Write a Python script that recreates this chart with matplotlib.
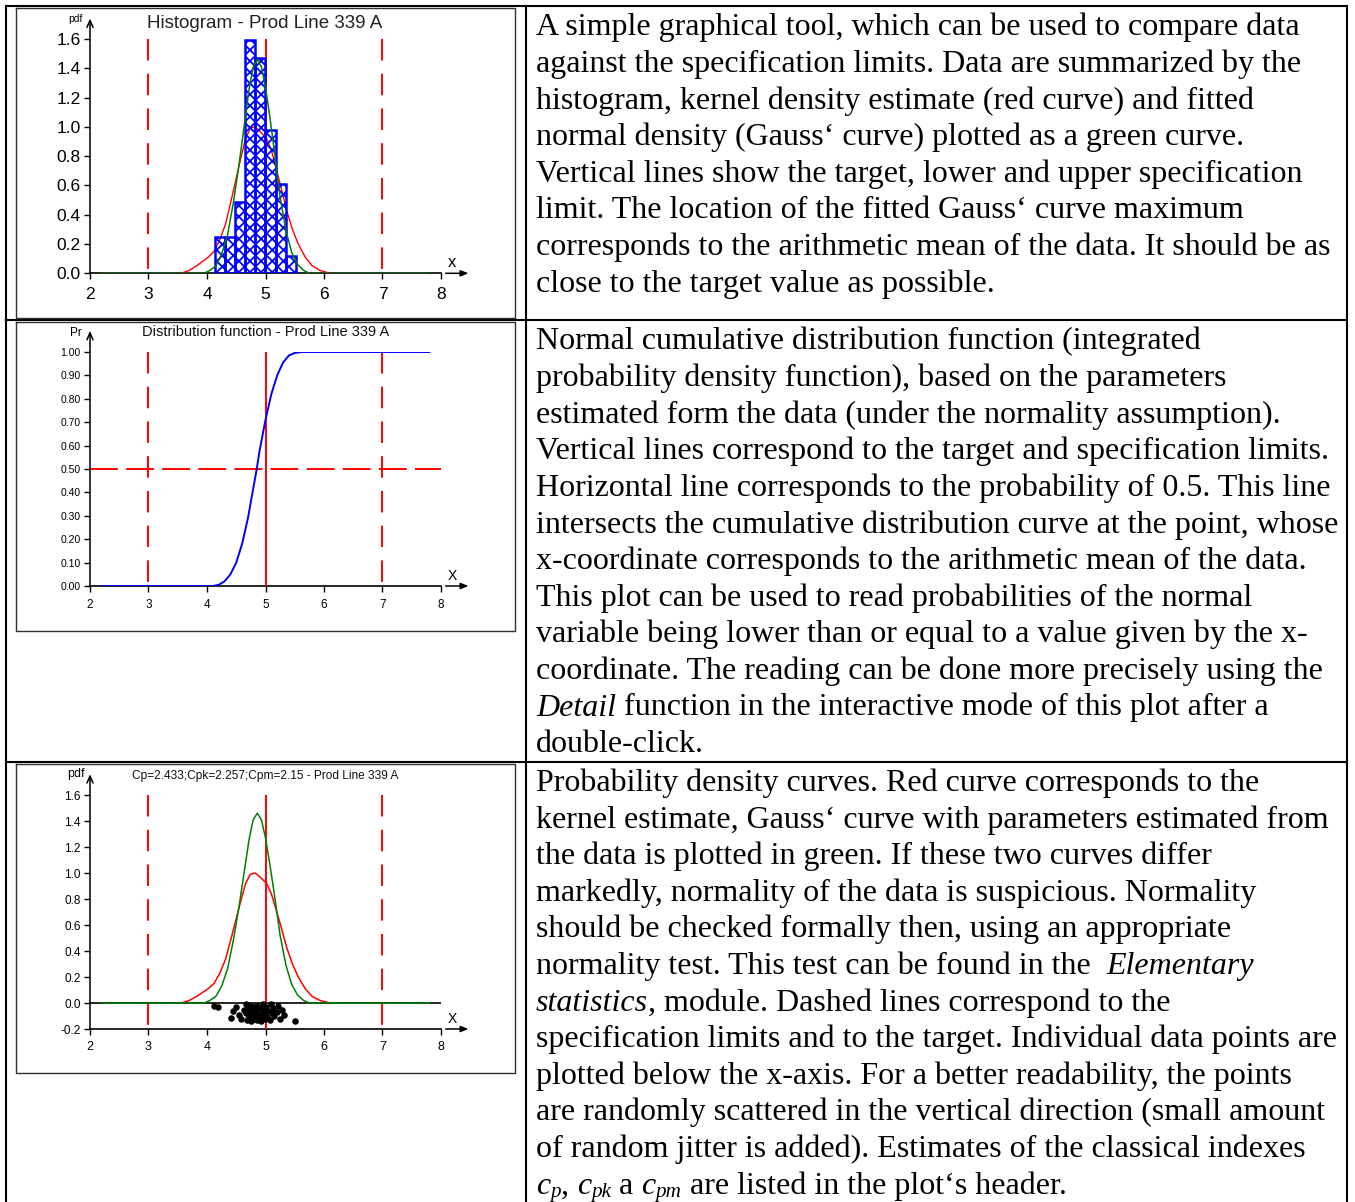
import numpy as np
import matplotlib
matplotlib.use("Agg")
import matplotlib.pyplot as plt

# ---------------- data ----------------
lsl_usl = [3, 7]
target = [5]
x_ticks = [2, 3, 4, 5, 6, 7, 8]
x_tick_labels = ["2", "3", "4", "5", "6", "7", "8"]

hist_edges = [4.13, 4.304, 4.478, 4.651, 4.825, 4.999, 5.173, 5.346, 5.52]
hist_density = [0.245, 0.245, 0.49, 1.59, 1.47, 0.98, 0.61, 0.12]

gauss_x = [2.2, 3.95, 4.05, 4.15, 4.25, 4.35, 4.45, 4.55, 4.65, 4.72, 4.79, 4.86,
           4.93, 5.0, 5.07, 5.15, 5.25, 5.35, 5.45, 5.55, 5.65, 5.75, 7.8]
gauss_y = [0.0, 0.0, 0.02, 0.05, 0.13, 0.26, 0.48, 0.75, 1.05, 1.26, 1.41, 1.46,
           1.41, 1.27, 1.08, 0.84, 0.52, 0.29, 0.14, 0.06, 0.02, 0.0, 0.0]

kde_x = [3.56, 3.70, 3.82, 3.92, 4.02, 4.12, 4.22, 4.32, 4.42, 4.50, 4.58, 4.66, 4.74,
         4.82, 4.88, 4.95, 5.02, 5.10, 5.18, 5.27, 5.36, 5.46, 5.56, 5.68, 5.80, 5.93, 6.10]
kde_y = [0.0, 0.02, 0.05, 0.08, 0.11, 0.15, 0.23, 0.34, 0.51, 0.65, 0.79, 0.92, 0.99,
         1.00, 0.98, 0.95, 0.92, 0.84, 0.72, 0.58, 0.43, 0.30, 0.20, 0.11, 0.05, 0.02, 0.0]

cdf_x = [2.2, 4.1, 4.2, 4.3, 4.4, 4.5, 4.6, 4.7, 4.8, 4.85, 4.9, 5.0, 5.1, 5.2, 5.3,
         5.4, 5.5, 5.62, 7.8]
cdf_y = [0.0, 0.0, 0.005, 0.02, 0.05, 0.10, 0.18, 0.29, 0.43, 0.50, 0.58, 0.71, 0.82,
         0.90, 0.955, 0.985, 0.996, 1.0, 1.0]

pts_x = [4.12, 4.19, 4.41, 4.45, 4.50, 4.54, 4.58, 4.63,
         4.66, 4.67, 4.69, 4.70, 4.72, 4.73, 4.75, 4.76, 4.78, 4.79, 4.80, 4.81, 4.82,
         4.84, 4.85, 4.86, 4.88, 4.89, 4.91, 4.92, 4.94, 4.95, 4.97, 4.98, 4.99,
         5.01, 5.03, 5.05, 5.07, 5.09, 5.11, 5.13, 5.15,
         5.19, 5.22, 5.25, 5.28, 5.31, 5.50]
pts_y = [-0.02, -0.03, -0.115, -0.06, -0.03, -0.09, -0.12, -0.05,
         -0.01, -0.08, -0.13, -0.04, -0.10, -0.06, -0.14, -0.02, -0.11, -0.07, -0.12, -0.03, -0.09,
         -0.05, -0.13, -0.02, -0.09, -0.11, -0.04, -0.14, -0.07, -0.01, -0.10, -0.06, -0.12,
         -0.03, -0.11, -0.06, -0.13, -0.01, -0.08, -0.04, -0.10,
         -0.07, -0.02, -0.12, -0.05, -0.09, -0.14]

pdf_ticks = [0.0, 0.2, 0.4, 0.6, 0.8, 1.0, 1.2, 1.4, 1.6]
pdf_tick_labels = ["0.0", "0.2", "0.4", "0.6", "0.8", "1.0", "1.2", "1.4", "1.6"]
pr_ticks = [0.0, 0.1, 0.2, 0.3, 0.4, 0.5, 0.6, 0.7, 0.8, 0.9, 1.0]
pr_tick_labels = ["0.00", "0.10", "0.20", "0.30", "0.40", "0.50", "0.60", "0.70",
                  "0.80", "0.90", "1.00"]
pdf3_ticks = [-0.2, 0.0, 0.2, 0.4, 0.6, 0.8, 1.0, 1.2, 1.4, 1.6]
pdf3_tick_labels = ["-0.2", "0.0", "0.2", "0.4", "0.6", "0.8", "1.0", "1.2", "1.4", "1.6"]
prob_half = [0.5]

title1 = "Histogram - Prod Line 339 A"
title2 = "Distribution function - Prod Line 339 A"
title3 = "Cp=2.433;Cpk=2.257;Cpm=2.15 - Prod Line 339 A"

row1_text = [
    "A simple graphical tool, which can be used to compare data",
    "against the specification limits. Data are summarized by the",
    "histogram, kernel density estimate (red curve) and fitted",
    "normal density (Gauss\u2018 curve) plotted as a green curve.",
    "Vertical lines show the target, lower and upper specification",
    "limit. The location of the fitted Gauss\u2018 curve maximum",
    "corresponds to the arithmetic mean of the data. It should be as",
    "close to the target value as possible.",
]
row2_text = [
    "Normal cumulative distribution function (integrated",
    "probability density function), based on the parameters",
    "estimated form the data (under the normality assumption).",
    "Vertical lines correspond to the target and specification limits.",
    "Horizontal line corresponds to the probability of 0.5. This line",
    "intersects the cumulative distribution curve at the point, whose",
    "x-coordinate corresponds to the arithmetic mean of the data.",
    "This plot can be used to read probabilities of the normal",
    "variable being lower than or equal to a value given by the x-",
    "coordinate. The reading can be done more precisely using the",
    [("Detail", "it"), (" function in the interactive mode of this plot after a", "n")],
    "double-click.",
]
row3_text = [
    "Probability density curves. Red curve corresponds to the",
    "kernel estimate, Gauss\u2018 curve with parameters estimated from",
    "the data is plotted in green. If these two curves differ",
    "markedly, normality of the data is suspicious. Normality",
    "should be checked formally then, using an appropriate",
    [("normality test. This test can be found in the  ", "n"), ("Elementary", "it")],
    [("statistics", "it"), (", module. Dashed lines correspond to the", "n")],
    "specification limits and to the target. Individual data points are",
    "plotted below the x-axis. For a better readability, the points",
    "are randomly scattered in the vertical direction (small amount",
    "of random jitter is added). Estimates of the classical indexes",
    [("c", "it"), ("p", "sub"), (", ", "n"), ("c", "it"), ("pk", "sub"), (" a ", "n"),
     ("c", "it"), ("pm", "sub"), (" are listed in the plot\u2018s header.", "n")],
]

# ---------------- figure ----------------
W, H = 1355, 1202
plt.rcParams["lines.scale_dashes"] = False
plt.rcParams["hatch.linewidth"] = 1.3
SANS = ["Liberation Sans", "DejaVu Sans"]
SERIF = ["Liberation Serif", "DejaVu Serif"]
RED, GREEN, BLUE = "#ff0000", "#008000", "#0000ff"

fig = plt.figure(figsize=(W / 100, H / 100), dpi=100)
fig.patch.set_facecolor("white")

bg = fig.add_axes([0, 0, 1, 1], zorder=5)
bg.set_xlim(0, W)
bg.set_ylim(H, 0)
bg.axis("off")
bg.patch.set_alpha(0)

# table lines
tl = dict(color="black", lw=1.5, solid_capstyle="projecting")
bg.plot([6, 1347], [5.5, 5.5], **tl)
bg.plot([6, 6], [5.5, H + 5], **tl)
bg.plot([1347, 1347], [5.5, H + 5], **tl)
bg.plot([525.5, 525.5], [5.5, H + 5], **tl)
bg.plot([6, 1347], [319.5, 319.5], **tl)
bg.plot([6, 1347], [761.5, 761.5], **tl)

# image boxes
for (t, b) in [(7.5, 318), (321.5, 631), (763.5, 1073)]:
    bg.plot([16, 515, 515, 16, 16], [t, t, b, b, t], color="#303030", lw=1.0)


def px_axes(l, t, r, b):
    return fig.add_axes([l / W, 1 - b / H, (r - l) / W, (b - t) / H])


def style_axes(ax, ylim, yticks, ylabels, ylsize, xlsize, xpad, ytop, xline_y):
    ax.set_xlim(2, 8)
    ax.set_ylim(*ylim)
    ax.set_xticks(x_ticks)
    ax.set_xticklabels(x_tick_labels, family=SANS)
    ax.set_yticks(yticks)
    ax.set_yticklabels(ylabels, family=SANS)
    for sp in ax.spines.values():
        sp.set_visible(False)
    ax.patch.set_alpha(0)
    ax.tick_params(axis="both", direction="out", length=4, width=1.0, color="black")
    ax.tick_params(axis="y", pad=2.6, labelsize=ylsize)
    ax.tick_params(axis="x", pad=xpad, labelsize=xlsize)
    # axes lines with arrows
    ax.plot([2, 8], [xline_y, xline_y], color="black", lw=1.2, clip_on=False, zorder=1)
    ax.annotate("", xy=(2, ytop), xytext=(2, ylim[0]), xycoords="data",
                arrowprops=dict(arrowstyle="->,head_length=0.5,head_width=0.22",
                                lw=1.1, color="black", shrinkA=0, shrinkB=0),
                annotation_clip=False)
    ax.annotate("", xy=(8.47, ylim[0]), xytext=(8.08, ylim[0]), xycoords="data",
                arrowprops=dict(arrowstyle="-|>,head_length=0.45,head_width=0.18",
                                lw=1.1, color="black", shrinkA=0, shrinkB=0),
                annotation_clip=False)


dash_v = (0, (15.5, 9.5))
dash_h = (0, (20, 6))

# ---------- plot 1: histogram ----------
ax1 = px_axes(90, 39, 441, 273.3)
style_axes(ax1, (0, 1.6), pdf_ticks, pdf_tick_labels, 12.5, 12.5, 5.8, 1.74, 0)
widths = np.diff(hist_edges)
ax1.plot(kde_x, kde_y, color=RED, lw=1.0, zorder=2)
ax1.bar(hist_edges[:-1], hist_density, width=widths, align="edge", facecolor="none",
        edgecolor=BLUE, hatch="xxx", lw=1.8, zorder=3)
ax1.plot(gauss_x, gauss_y, color=GREEN, lw=1.1, zorder=4)
for xv in lsl_usl:
    ax1.plot([xv, xv], [1.6, 0], color=RED, lw=1.4, ls=dash_v, zorder=2)
for xv in target:
    ax1.plot([xv, xv], [1.6, 0], color=RED, lw=1.4, zorder=2)

# ---------- plot 2: distribution function ----------
ax2 = px_axes(90, 352, 441, 586)
style_axes(ax2, (0, 1.0), pr_ticks, pr_tick_labels, 7.5, 8.5, 5.0, 1.09, 0)
for xv in lsl_usl:
    ax2.plot([xv, xv], [1.0, 0], color=RED, lw=1.4, ls=dash_v, zorder=2)
for xv in target:
    ax2.plot([xv, xv], [1.0, 0], color=RED, lw=1.4, zorder=2)
for yv in prob_half:
    ax2.plot([2, 8], [yv, yv], color=RED, lw=1.4, ls=dash_h, zorder=2)
ax2.plot(cdf_x, cdf_y, color=BLUE, lw=1.4, zorder=3)

# ---------- plot 3: density curves ----------
ax3 = px_axes(90, 795, 441, 1029)
style_axes(ax3, (-0.2, 1.6), pdf3_ticks, pdf3_tick_labels, 8.5, 9.0, 5.0, 1.76, -0.2)
ax3.plot([2, 8], [0, 0], color="black", lw=1.2, zorder=1)
for xv in lsl_usl:
    ax3.plot([xv, xv], [1.6, -0.2], color=RED, lw=1.4, ls=dash_v, zorder=2)
for xv in target:
    ax3.plot([xv, xv], [1.6, -0.2], color=RED, lw=1.4, zorder=2)
ax3.plot(kde_x, kde_y, color=RED, lw=1.1, zorder=3)
ax3.plot(gauss_x, gauss_y, color=GREEN, lw=1.1, zorder=3)
ax3.scatter(pts_x, pts_y, s=22, color="black", zorder=4, linewidths=0)

# ---------- plot labels (titles, axis names) ----------
bg.text(265, 27.5, title1, family=SANS, fontsize=13.5, ha="center", va="baseline", color="#222")
bg.text(266, 336.5, title2, family=SANS, fontsize=10.5, ha="center", va="baseline", color="#111")
bg.text(265, 778.5, title3, family=SANS, fontsize=8.6, ha="center", va="baseline", color="#111")
bg.text(75, 21.5, "pdf", family=SANS, fontsize=7.5, ha="center", va="baseline")
bg.text(76, 335.5, "Pr", family=SANS, fontsize=8.5, ha="center", va="baseline")
bg.text(76, 777.5, "pdf", family=SANS, fontsize=9, ha="center", va="baseline")
bg.text(452.5, 267, "x", family=SANS, fontsize=12, ha="center", va="baseline")
bg.text(452.5, 580, "X", family=SANS, fontsize=10, ha="center", va="baseline")
bg.text(452.5, 1023, "X", family=SANS, fontsize=10, ha="center", va="baseline")

# ---------- text column ----------
renderer = fig.canvas.get_renderer()


def measure(s, size, style="normal"):
    t1 = bg.text(0, 0, "|" + s + "|", family=SERIF, fontsize=size, fontstyle=style)
    w1 = t1.get_window_extent(renderer=renderer).width
    t1.remove()
    t2 = bg.text(0, 0, "||", family=SERIF, fontsize=size, fontstyle=style)
    w2 = t2.get_window_extent(renderer=renderer).width
    t2.remove()
    return w1 - w2


base_size = 22.0
w_ref = measure(row1_text[0], base_size)
FS = base_size * 762.0 / w_ref

TX = 536
LINE = 36.6


def draw_rich(x, y, parts):
    for s, kind in parts:
        style = "italic" if kind in ("it", "sub") else "normal"
        size = FS * 0.66 if kind == "sub" else FS
        dy = FS * 100 / 72 * 0.11 if kind == "sub" else 0
        lead = len(s) - len(s.lstrip(" "))
        xoff = measure(" " * lead, size, style) if lead else 0
        if s.strip():
            bg.text(x + xoff, y + dy, s.strip(), family=SERIF, fontsize=size,
                    fontstyle=style, ha="left", va="baseline", color="black")
        x += measure(s, size, style)


for first, lines in [(35.5, row1_text), (349.5, row2_text), (791, row3_text)]:
    for i, ln in enumerate(lines):
        y = first + i * LINE
        if isinstance(ln, str):
            bg.text(TX, y, ln, family=SERIF, fontsize=FS, ha="left", va="baseline",
                    color="black")
        else:
            draw_rich(TX, y, ln)

fig.savefig("out.png", dpi=100, facecolor="white")
